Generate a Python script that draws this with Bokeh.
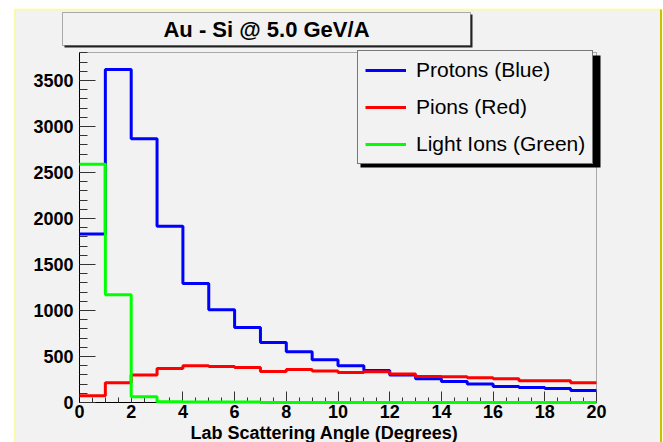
from bokeh.plotting import figure
from bokeh.models import (Range1d, FixedTicker, BoxAnnotation, Label,
                          Legend, LegendItem, LinearAxis)
from bokeh.embed import file_html
from bokeh.resources import INLINE

# ---- data ----
bin_edges = list(range(0, 21))
protons = [1832, 3620, 2866, 1915, 1295, 1009, 816, 653, 552, 465,
           399, 348, 298, 258, 229, 200, 174, 163, 152, 131]
pions = [73, 214, 298, 370, 399, 392, 381, 337, 359, 342,
         326, 334, 309, 283, 280, 269, 258, 236, 236, 214]
light_ions = [2590, 1172, 62, 8, 6, 6, 6, 0, 0, 0,
              0, 0, 0, 0, 0, 0, 0, 0, 0, 0]
series_names = ["Protons (Blue)", "Pions (Red)", "Light Ions (Green)"]
series_colors = ["#0000ff", "#ff0000", "#00ff00"]
x_major = list(range(0, 21, 2))
x_minor = [i * 0.5 for i in range(0, 41)]
y_major = list(range(0, 3501, 500))
y_minor = list(range(0, 3801, 100))
title_text = "Au - Si @ 5.0 GeV/A"
x_title = "Lab Scattering Angle (Degrees)"

FONT = "Liberation Sans"
BG = "#f2f2f2"
W, H = 663, 442

# data region geometry (pixels) and data limits
FL, FR, FT, FB = 79, 596, 52, 402
X0, X1, Y0, Y1 = 0, 20, 0, 3805


def xd(px):
    return X0 + (px - FL) / (FR - FL) * (X1 - X0)


def yd(py):
    return Y0 + (FB - py) / (FB - FT) * (Y1 - Y0)


p = figure(width=W, height=H, output_backend="svg", toolbar_location=None,
           x_range=Range1d(xd(0), xd(W)), y_range=Range1d(yd(H), yd(0)),
           x_axis_type=None, y_axis_type=None,
           min_border=0, min_border_left=0, min_border_right=0,
           min_border_top=0, min_border_bottom=0)
p.title.visible = False
p.border_fill_color = "white"
p.background_fill_color = "white"
p.outline_line_color = None
p.grid.visible = False


def box(l, r, t, b, **kw):
    return BoxAnnotation(left=xd(l), right=xd(r), top=yd(t), bottom=yd(b), **kw)


# canvas background with yellow bevel
p.add_layout(box(14, 661, 9, 470, fill_color=BG, fill_alpha=1,
                 line_color="#ffff00", line_width=2, level="underlay"))
p.add_layout(box(659.5, 661.5, 9, 470, fill_color="#c8c000", fill_alpha=1,
                 line_alpha=0, level="underlay"))
# plot frame
p.add_layout(BoxAnnotation(left=X0, right=X1, bottom=Y0, top=Y1,
                           fill_alpha=0, line_color="black", line_width=1,
                           level="underlay"))

# axes
xa = LinearAxis(fixed_location=Y0, bounds=(X0, X1),
                ticker=FixedTicker(ticks=x_major, minor_ticks=x_minor))
xa.major_tick_in = 11
xa.major_tick_out = 0
xa.minor_tick_in = 5
xa.minor_tick_out = 0
xa.axis_line_color = "black"
xa.major_tick_line_color = "#333333"
xa.minor_tick_line_color = "#333333"
xa.major_label_text_font = FONT
xa.major_label_text_font_style = "bold"
xa.major_label_text_font_size = "18px"
xa.major_label_text_color = "black"
xa.major_label_standoff = 2
p.add_layout(xa, "below")

ya = LinearAxis(fixed_location=X0, bounds=(Y0, Y1),
                ticker=FixedTicker(ticks=y_major, minor_ticks=y_minor))
ya.major_tick_in = 16
ya.major_tick_out = 0
ya.minor_tick_in = 8
ya.minor_tick_out = 0
ya.axis_line_color = "black"
ya.major_tick_line_color = "#333333"
ya.minor_tick_line_color = "#333333"
ya.major_label_text_font = FONT
ya.major_label_text_font_style = "bold"
ya.major_label_text_font_size = "18px"
ya.major_label_text_color = "black"
ya.major_label_standoff = 6
p.add_layout(ya, "left")

# histograms
renderers = []
for vals, col in zip([protons, pions, light_ions], series_colors):
    r = p.step(x=bin_edges, y=vals + [vals[-1]], mode="after",
               line_color=col, line_width=3, level="overlay")
    renderers.append(r)

# title box
p.add_layout(box(64, 472, 14, 47, fill_color="#222222", fill_alpha=1,
                 line_alpha=0, level="annotation"))
p.add_layout(box(62, 470, 12, 45, fill_color=BG, fill_alpha=1,
                 line_color="black", line_width=1, level="annotation"))
p.add_layout(Label(x=xd(266), y=yd(29), text=title_text, text_font=FONT,
                   text_font_style="bold", text_font_size="22px",
                   text_align="center", text_baseline="middle",
                   text_color="black"))

# x axis title
p.add_layout(Label(x=xd(324), y=yd(422), text=x_title, text_font=FONT,
                   text_font_style="bold", text_font_size="18px",
                   text_align="center", text_baseline="top",
                   text_color="black"))

# legend shadow
p.add_layout(box(360, 600, 55, 167, fill_color="black", fill_alpha=1,
                 line_alpha=0, level="annotation"))

legend = Legend(items=[LegendItem(label=n, renderers=[r])
                       for n, r in zip(series_names, renderers)],
                location=(357, H - 164), margin=0, padding=7, spacing=13,
                glyph_width=41, label_standoff=10,
                label_text_font=FONT, label_text_font_size="21px",
                label_text_color="black",
                background_fill_color=BG, background_fill_alpha=1,
                border_line_color="black", border_line_width=1)
p.add_layout(legend)

open("out.html", "w").write(file_html(p, INLINE))
